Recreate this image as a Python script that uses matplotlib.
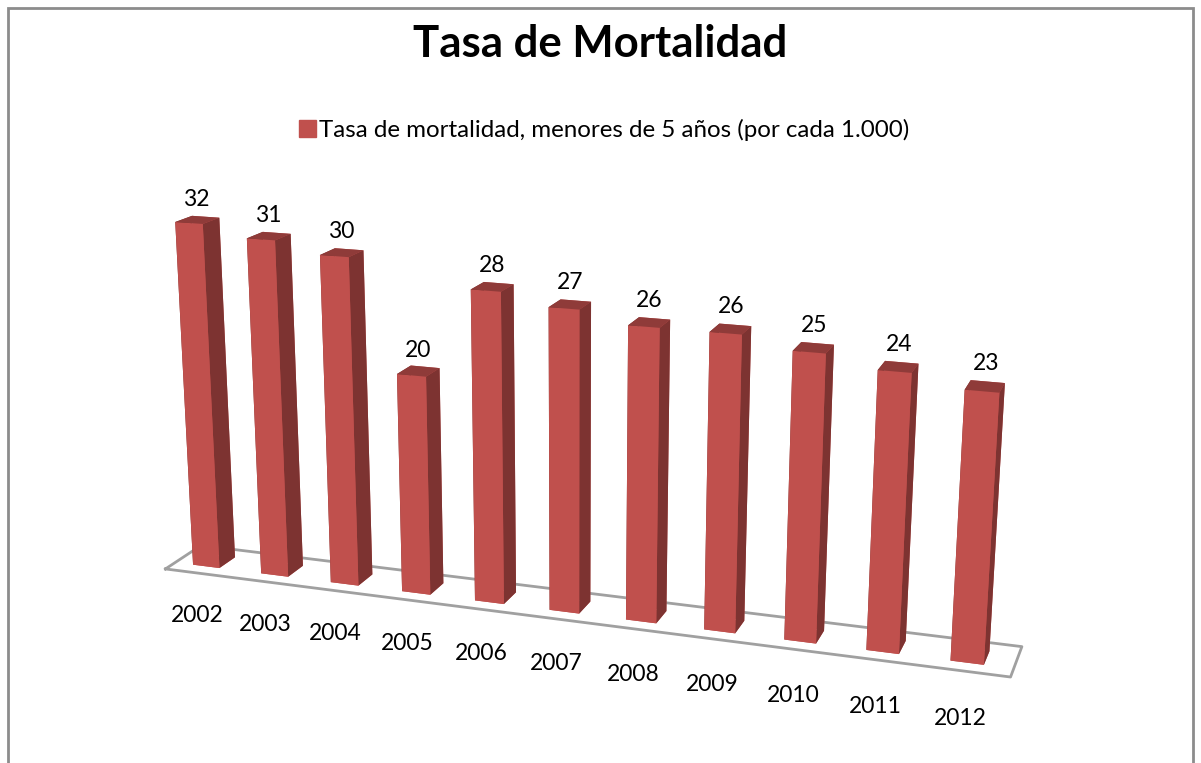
import matplotlib
matplotlib.use("Agg")
import matplotlib.pyplot as plt
from matplotlib.patches import Patch, Rectangle
from mpl_toolkits.mplot3d import Axes3D, proj3d  # noqa: F401
import numpy as np

years = ["2002", "2003", "2004", "2005", "2006", "2007", "2008", "2009", "2010", "2011", "2012"]
rates = [32, 31, 30, 20, 28, 27, 26, 26, 25, 24, 23]
title = "Tasa de Mortalidad"
series_name = "Tasa de mortalidad, menores de 5 años (por cada 1.000)"

FRONT, SIDE, TOP = "#C0504D", "#7D3331", "#8F3B39"
W, H = 1201, 763
plt.rcParams["font.family"] = ["Lato", "DejaVu Sans"]

fig = plt.figure(figsize=(W / 100, H / 100), dpi=100, facecolor="white")
fig.add_artist(Rectangle((8 / W, -0.1), (1193 - 8) / W, (H - 8) / H + 0.1, transform=fig.transFigure,
                         fill=False, ec="#8C8C8C", lw=2))

S = 1200
cx, cy = 557, 424
ax = fig.add_axes([(cx - S / 2) / W, (H - cy - S / 2) / H, S / W, S / H], projection="3d", computed_zorder=False)
ax.patch.set_alpha(0)
ax.set_proj_type("persp", focal_length=0.33)
ax.view_init(elev=16, azim=-71)
ax.set_box_aspect((1, 0.088, 0.47), zoom=0.808)
ax.set_xlim(0, len(years))
ax.set_ylim(0, 1)
ax.set_zlim(0, 36)
ax.set_axis_off()

n = len(years)
xs = np.arange(n) + 0.46
bw, bd = 0.39, 0.45
ax.plot([0, n, n, 0, 0], [0, 0, 1, 1, 0], [0, 0, 0, 0, 0], color="#A0A0A0", lw=2, zorder=1)
ax.bar3d(xs - bw / 2, np.full(n, 0.27), np.zeros(n), bw, bd, rates,
         color=[FRONT, TOP, FRONT, FRONT, SIDE, SIDE] * n, shade=False, edgecolor="none", zorder=2)


def label3d(x, y, z, s):
    px, py, _ = proj3d.proj_transform(x, y, z, ax.get_proj())
    ax.text2D(px, py, s, transform=ax.transData, ha="center", va="center", fontsize=16.5, color="black", zorder=3)


for x, v, y in zip(xs, rates, years):
    label3d(x, 0.5, v + 1.85, str(v))
    label3d(x, -0.05, -4.0, y)

fig.text(600 / W, 1 - 44 / H, title, ha="center", va="center", fontsize=31.5, fontweight="bold", color="black")
fig.legend(handles=[Patch(color=FRONT, label=series_name)], frameon=False, loc="center",
           bbox_to_anchor=(604 / W, 1 - 130 / H), fontsize=17.4, handlelength=0.7, handleheight=0.7, handletextpad=0.15)
fig.savefig("out.png", dpi=100)
